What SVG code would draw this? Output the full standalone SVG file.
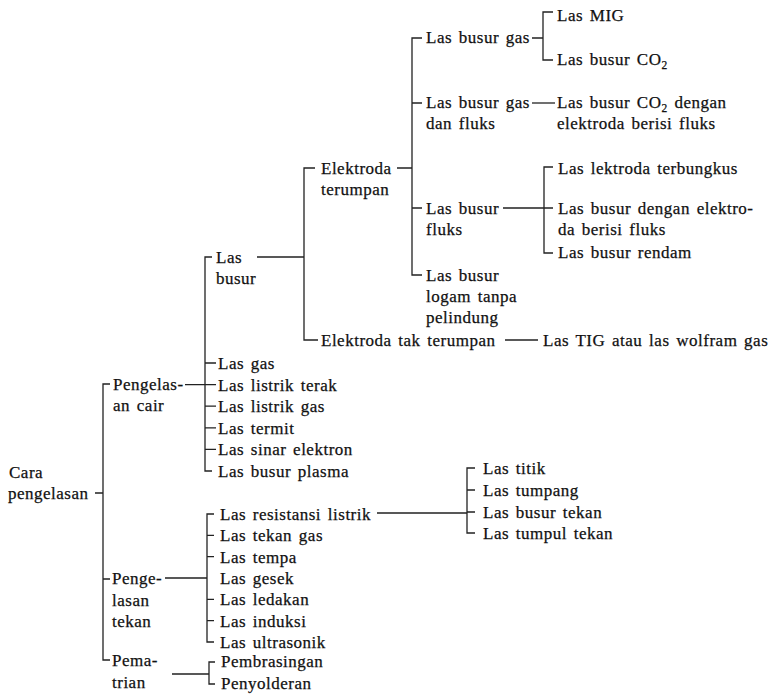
<svg xmlns="http://www.w3.org/2000/svg" width="779" height="696" viewBox="0 0 779 696">
<style>
text{font-family:"Liberation Serif","Times New Roman",serif;font-size:17px;letter-spacing:0.5px;word-spacing:2px;fill:#111;stroke:#111;stroke-width:0.25}
.sub{font-size:11.5px}
#connectors path{fill:none;stroke:#222;stroke-width:1.3}
</style>
<rect width="779" height="696" fill="#fff"/>
<g id="connectors">
<path d="M95,493H103M110,384H103V660H110M103,579H110"/>
<path d="M185,384.6H205M212,257H205V471H212M205,363H216M205,384.6H216M205,406.2H216M205,427.8H216M205,449.4H216"/>
<path d="M257,257H304M315,168H304V340H318"/>
<path d="M397,168H412M422,38H412V275H422M412,103H422M412,208H422"/>
<path d="M532,38H543M553,12H543V60H553"/>
<path d="M532,103H555"/>
<path d="M503,208H544M553,167H544V253H553M544,208H553"/>
<path d="M505,340H538"/>
<path d="M377,513H467M475,468H467V533H475M467,490H475M467,512H475"/>
<path d="M165,578H207M214,514H207V642H214M207,535.3H214M207,556.7H214M207,599.3H214M207,620.7H214"/>
<path d="M172,674H209M215,662H209V684H215"/>
</g>
<g id="cara"><text x="9" y="478">Cara</text><text x="8" y="499">pengelasan</text></g>
<g id="pengelasan-cair"><text x="113" y="390">Pengelas-</text><text x="113" y="411">an cair</text></g>
<g id="las-busur"><text x="216" y="263">Las</text><text x="216" y="284">busur</text></g>
<g id="elektroda-terumpan"><text x="321" y="174">Elektroda</text><text x="321" y="195">terumpan</text></g>
<g id="elektroda-tak-terumpan"><text x="321" y="346">Elektroda tak terumpan</text></g>
<g id="las-tig"><text x="543" y="346">Las TIG atau las wolfram gas</text></g>
<g id="las-busur-gas"><text x="426" y="43">Las busur gas</text></g>
<g id="las-mig"><text x="557" y="21">Las MIG</text></g>
<g id="las-busur-co2"><text x="557" y="65">Las busur CO<tspan class="sub" dy="4">2</tspan></text></g>
<g id="las-busur-gas-fluks"><text x="426" y="108">Las busur gas</text><text x="426" y="129">dan fluks</text></g>
<g id="las-co2-fluks"><text x="557" y="108">Las busur CO<tspan class="sub" dy="4">2</tspan><tspan dy="-4"> dengan</tspan></text><text x="557" y="129">elektroda berisi fluks</text></g>
<g id="las-busur-fluks"><text x="426" y="214">Las busur</text><text x="426" y="235">fluks</text></g>
<g id="las-lektroda-terbungkus"><text x="558" y="174">Las lektroda terbungkus</text></g>
<g id="las-busur-elektroda-fluks"><text x="558" y="214">Las busur dengan elektro-</text><text x="558" y="235">da berisi fluks</text></g>
<g id="las-busur-rendam"><text x="558" y="258">Las busur rendam</text></g>
<g id="las-busur-logam"><text x="426" y="281">Las busur</text><text x="426" y="302">logam tanpa</text><text x="426" y="323">pelindung</text></g>
<g id="las-gas"><text x="218" y="369">Las gas</text></g>
<g id="las-listrik-terak"><text x="218" y="390.6">Las listrik terak</text></g>
<g id="las-listrik-gas"><text x="218" y="412.2">Las listrik gas</text></g>
<g id="las-termit"><text x="218" y="433.8">Las termit</text></g>
<g id="las-sinar-elektron"><text x="218" y="455.4">Las sinar elektron</text></g>
<g id="las-busur-plasma"><text x="218" y="477">Las busur plasma</text></g>
<g id="pengelasan-tekan"><text x="112" y="584">Penge-</text><text x="112" y="605.5">lasan</text><text x="112" y="627">tekan</text></g>
<g id="las-resistansi-listrik"><text x="220" y="520">Las resistansi listrik</text></g>
<g id="las-tekan-gas"><text x="220" y="541.3">Las tekan gas</text></g>
<g id="las-tempa"><text x="220" y="562.7">Las tempa</text></g>
<g id="las-gesek"><text x="220" y="584">Las gesek</text></g>
<g id="las-ledakan"><text x="220" y="605.3">Las ledakan</text></g>
<g id="las-induksi"><text x="220" y="626.7">Las induksi</text></g>
<g id="las-ultrasonik"><text x="220" y="648">Las ultrasonik</text></g>
<g id="las-titik"><text x="483" y="474">Las titik</text></g>
<g id="las-tumpang"><text x="483" y="496">Las tumpang</text></g>
<g id="las-busur-tekan"><text x="483" y="518">Las busur tekan</text></g>
<g id="las-tumpul-tekan"><text x="483" y="539">Las tumpul tekan</text></g>
<g id="pematrian"><text x="112" y="666">Pema-</text><text x="112" y="688">trian</text></g>
<g id="pembrasingan"><text x="221" y="667">Pembrasingan</text></g>
<g id="penyolderan"><text x="221" y="689">Penyolderan</text></g>
</svg>
